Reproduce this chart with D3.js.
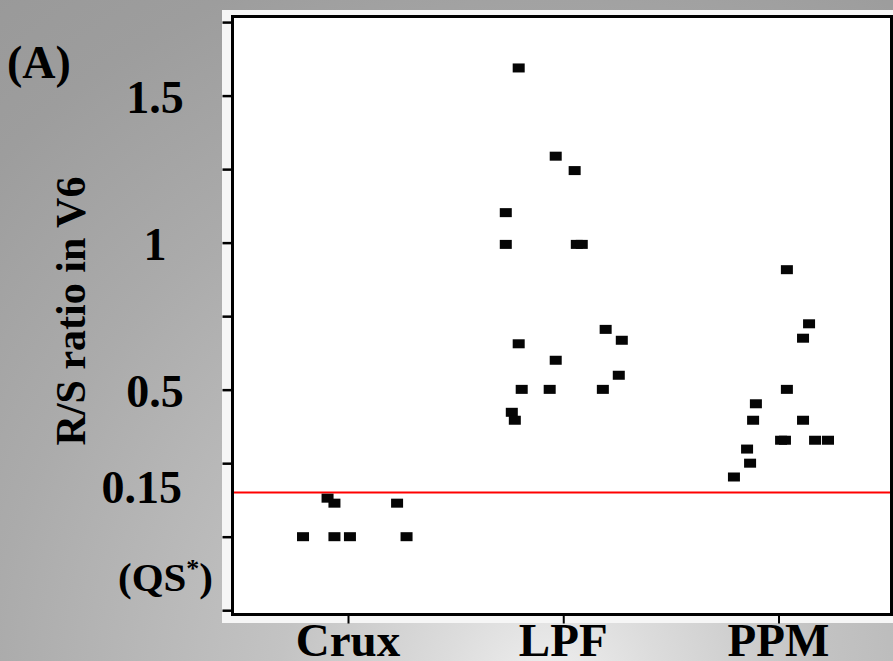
<!DOCTYPE html>
<html>
<head>
<meta charset="utf-8">
<script src="https://cdn.jsdelivr.net/npm/d3@7"></script>
<style>
  html, body { margin: 0; padding: 0; background: #9a9a9a; }
  svg { display: block; }
  text { font-family: "Liberation Serif", "Times New Roman", serif; font-weight: bold; fill: #000; }
</style>
</head>
<body>
<div id="chart"></div>
<script>
// groups on the x axis
var categories = ["Crux", "LPF", "PPM"];

// R/S ratio values per group (0 = QS)
var cruxValues = [0, 0.131, 0.114, 0, 0, 0.114, 0];
var cruxJitter = [-0.209, -0.095, -0.063, -0.063, 0.009, 0.228, 0.272];

var lpfValues = [1.594, 1.294, 1.245, 1.102, 0.994, 0.994, 0.994, 0.705, 0.668, 0.656, 0.600, 0.549, 0.501, 0.501, 0.501, 0.423, 0.396];
var lpfJitter = [-0.207, -0.035, 0.053, -0.267, -0.267, 0.063, 0.086, 0.197, 0.272, -0.207, -0.035, 0.258, -0.193, -0.063, 0.184, -0.239, -0.225];

var ppmValues = [0.908, 0.724, 0.675, 0.501, 0.452, 0.396, 0.396, 0.328, 0.328, 0.328, 0.328, 0.298, 0.250, 0.203];
var ppmJitter = [0.039, 0.142, 0.114, 0.039, -0.105, -0.118, 0.114, 0.012, 0.030, 0.170, 0.230, -0.146, -0.132, -0.207];

// y ticks and labelled values
var yTicks = [-0.25, 0, 0.25, 0.5, 0.75, 1, 1.25, 1.5, 1.75];
var yLabels = [1.5, 1, 0.5];
var cutoff = 0.15;

(function (){
    var width = 893,
        height = 661;

    var svg = d3.select("#chart")
        .append("svg")
        .attr("width", width)
        .attr("height", height);

    // grey background, lighter towards the bottom middle
    var grad = svg.append("defs").append("radialGradient")
        .attr("id", "bg")
        .attr("gradientUnits", "userSpaceOnUse")
        .attr("cx", 550).attr("cy", 690).attr("r", 900);
    [[0, "#f0f0f0"], [0.12, "#dcdcdc"], [0.3, "#c3c3c3"], [0.62, "#ababab"], [0.85, "#9d9d9d"], [1, "#999999"]]
        .forEach(function(s){
            grad.append("stop").attr("offset", s[0]).attr("stop-color", s[1]);
        });
    svg.append("rect")
        .attr("width", width).attr("height", height)
        .attr("fill", "url(#bg)");

    // pale panel behind the plot
    svg.append("rect")
        .attr("x", 222).attr("y", 10)
        .attr("width", width - 222).attr("height", 613)
        .attr("fill", "#f6f6f6");

    var left = 232.5, right = 891.5, top = 16.5, bottom = 614.5;

    var y = d3.scaleLinear()
        .domain([-0.2646, 1.769])
        .range([bottom, top]);

    var x = d3.scalePoint()
        .domain(categories)
        .range([235, right])
        .padding(0.525);

    svg.append("rect")
        .attr("x", left).attr("y", top)
        .attr("width", right - left).attr("height", bottom - top)
        .attr("fill", "#fff");

    // axes (ticks only)
    var yAxis = svg.append("g")
        .attr("transform", "translate(" + left + ",0)")
        .call(d3.axisLeft(y).tickValues(yTicks).tickSize(10).tickFormat(""));
    yAxis.select(".domain").remove();
    yAxis.selectAll("line").attr("stroke", "#000").attr("stroke-width", 2.5);

    var xAxis = svg.append("g")
        .attr("transform", "translate(0," + bottom + ")")
        .call(d3.axisBottom(x).tickSize(9).tickFormat(""));
    xAxis.select(".domain").remove();
    xAxis.selectAll("line").attr("stroke", "#000").attr("stroke-width", 2);

    // cut-off line
    svg.append("line")
        .attr("x1", left + 1.5).attr("x2", right - 1.5)
        .attr("y1", y(cutoff)).attr("y2", y(cutoff))
        .attr("stroke", "#ff0000")
        .attr("stroke-width", 2);

    // points
    var points = [];
    [[cruxValues, cruxJitter], [lpfValues, lpfJitter], [ppmValues, ppmJitter]].forEach(function(g, i){
        g[0].forEach(function(v, j){
            points.push({cat: categories[i], value: v, jitter: g[1][j]});
        });
    });

    svg.selectAll(".pt")
        .data(points)
        .enter().append("rect")
        .attr("class", "pt")
        .attr("x", function(d){ return x(d.cat) + d.jitter * x.step() - 6; })
        .attr("y", function(d){ return y(d.value) - 4.5; })
        .attr("width", 12)
        .attr("height", 9)
        .attr("fill", "#050505");

    // frame
    svg.append("rect")
        .attr("x", left).attr("y", top)
        .attr("width", right - left).attr("height", bottom - top)
        .attr("fill", "none")
        .attr("stroke", "#000")
        .attr("stroke-width", 3);

    // y labels
    svg.selectAll(".ylab")
        .data(yLabels)
        .enter().append("text")
        .attr("class", "ylab")
        .attr("x", 155)
        .attr("y", function(d){ return y(d) + 17; })
        .attr("text-anchor", "middle")
        .style("font-size", "46px")
        .text(function(d){ return d; });

    svg.append("text")
        .attr("x", 182)
        .attr("y", y(cutoff) + 10)
        .attr("text-anchor", "end")
        .style("font-size", "46px")
        .text(cutoff);

    var qs = svg.append("text")
        .attr("x", 213)
        .attr("y", 591)
        .attr("text-anchor", "end")
        .style("font-size", "41px");
    qs.append("tspan").text("(QS");
    qs.append("tspan").attr("dy", -14).style("font-size", "26px").text("*");
    qs.append("tspan").attr("dy", 14).text(")");

    svg.append("text")
        .attr("x", 7)
        .attr("y", 78)
        .style("font-size", "46px")
        .text("(A)");

    svg.append("text")
        .attr("transform", "translate(85,311) rotate(-90)")
        .attr("text-anchor", "middle")
        .style("font-size", "42px")
        .text("R/S ratio in V6");

    // x labels
    svg.selectAll(".xlab")
        .data(categories)
        .enter().append("text")
        .attr("class", "xlab")
        .attr("x", function(d){ return x(d); })
        .attr("y", 656)
        .attr("text-anchor", "middle")
        .style("font-size", "47px")
        .text(function(d){ return d; });
})();
</script>
</body>
</html>
